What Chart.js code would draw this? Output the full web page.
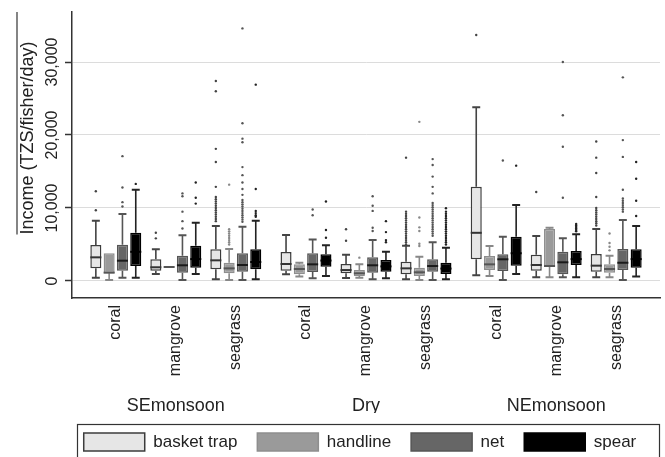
<!DOCTYPE html>
<html>
<head>
<meta charset="utf-8">
<script src="https://cdn.jsdelivr.net/npm/chart.js@4/dist/chart.umd.min.js"></script>
<style>
  body { margin: 0; background: #fff; }
  #wrap { width: 665px; height: 457px; }
</style>
</head>
<body>
<div id="wrap"><canvas id="chart"></canvas></div>
<script>
const seasons = ["SEmonsoon", "Dry", "NEmonsoon"];
const habitats = ["coral", "mangrove", "seagrass"];
const gears = ["basket trap", "handline", "net", "spear"];
const yTicks = [0, 10000, 20000, 30000];

// one row per group (SE coral, SE mangrove, SE seagrass, Dry ..., NE ...)
// [lower whisker, q1, median, q3, upper whisker], TZS/fisher/day
const basketTrap = [
  [460, 1730, 3240, 4930, 8260],
  [960, 1410, 1880, 2970, 4340],
  [230, 1600, 2830, 4340, 7530],
  [910, 1410, 2330, 3970, 6300],
  [410, 1050, 1500, 2330, 3600],
  [230, 910, 1730, 2650, 4840],
  [780, 2970, 6600, 12900, 23800],
  [500, 1410, 2190, 3600, 6160],
  [500, 1280, 2100, 3700, 7120],
];
const handline = [
  [140, 1050, 1140, 3790, 3790],
  [1920, 1920, 1920, 1920, 1920],
  [140, 1050, 1730, 2500, 4380],
  [600, 910, 1640, 2280, 2500],
  [460, 680, 1050, 1500, 2280],
  [140, 680, 1190, 1820, 3330],
  [680, 1500, 2280, 3420, 4800],
  [500, 1960, 2050, 7120, 7300],
  [500, 1140, 1640, 2280, 3470],
];
const net = [
  [460, 1410, 2780, 4970, 9180],
  [140, 1140, 2150, 3470, 6260],
  [140, 1280, 2190, 3790, 7440],
  [370, 1230, 2280, 3790, 5700],
  [230, 1140, 2150, 3240, 5620],
  [140, 1280, 2050, 2970, 5300],
  [140, 1370, 2970, 3650, 6070],
  [500, 910, 2560, 4020, 5840],
  [140, 1500, 2500, 4380, 8360],
];
const spear = [
  [460, 2050, 4000, 6620, 12500],
  [960, 1820, 3000, 4840, 7990],
  [230, 1600, 2600, 4340, 8260],
  [680, 1960, 2800, 3650, 4890],
  [370, 1280, 2000, 2880, 4000],
  [230, 960, 1700, 2500, 4560],
  [960, 2100, 3800, 6070, 10400],
  [500, 2190, 3000, 4100, 6390],
  [600, 1820, 3000, 4340, 7530],
];

// outside values, same group order
const basketTrapOut = [
  [12300, 9700],
  [6600, 5840],
  [27400, 26000, 18100, 16300, 12900, 11500, 11200, 10900, 10600, 10300, 10000, 9700, 9400, 9100, 8800, 8500, 8200],
  [],
  [7080, 5520],
  [16900, 9500, 9200, 8900, 8600, 8300, 8000, 7700, 7400, 7100, 6800, 6500, 6200, 5900, 5600, 5300, 5000],
  [33700],
  [12200],
  [19100, 16900, 14800, 11500, 10000, 9700, 9400, 9100, 8800, 8500, 8200, 7900, 7600],
];
const handlineOut = [
  [],
  [],
  [13200, 7100, 6800, 6500, 6200, 5900, 5600, 5300, 5000],
  [],
  [3200],
  [21800, 8700, 7350, 6850, 5100, 4800],
  [],
  [],
  [6500, 5200, 4700, 4200],
];
const netOut = [
  [17100, 12800, 10800, 10200],
  [12000, 11600, 9500, 8200, 7200],
  [34600, 21600, 19500, 19000, 15600, 14500, 13500, 12600, 11800, 11100, 10800, 10500, 10200, 9900, 9600, 9300, 9000, 8700, 8400, 8100],
  [9800, 9000],
  [11600, 10300, 9600, 7300, 6850],
  [16700, 15900, 14300, 12900, 12000, 10700, 10400, 10100, 9800, 9500, 9200, 8900, 8600, 8300, 8000, 7700, 7400, 7100, 6800, 6500, 6200],
  [16500],
  [30000, 22700, 18400, 11400],
  [27900, 19300, 17000, 12500, 11300, 11000, 10700, 10400, 10100, 9800, 9500],
];
const spearOut = [
  [13300],
  [13500, 11400, 10600],
  [26900, 12600, 9600, 9300, 9000, 8800],
  [10900, 6990, 5930],
  [8200, 6700, 5600, 5300],
  [9960, 9500, 9200, 8900, 8600, 8300, 8000, 7700, 7400, 7100, 6800, 6500, 6200, 5900, 5600, 5300, 5000],
  [15800],
  [7800, 7600, 7400, 7200, 7000, 6800],
  [16300, 14000, 11000, 8900],
];

const gearStats = [basketTrap, handline, net, spear];
const gearOutliers = [basketTrapOut, handlineOut, netOut, spearOut];
const fills = ["#e6e6e6", "#9a9a9a", "#666666", "#000000"];
const edges = ["#3c3c3c", "#8e8e8e", "#555555", "#000000"];
const whiskerColors = ["#444444", "#888888", "#555555", "#222222"];
const medianColors = ["#333333", "#555555", "#1a1a1a", "#000000"];

// habitat groups sit one unit apart, seasons a little further
const seasonStep = 3.17;
const groupPos = [];
seasons.forEach((s, si) => habitats.forEach((h, hi) => groupPos.push(si * seasonStep + hi)));
const xMin = -0.73;
const xMax = 9.07;

const FONT = "'Liberation Sans', Arial, Helvetica, sans-serif";
Chart.defaults.font.family = FONT;
Chart.defaults.color = "#222";

const boxExtras = {
  id: "boxExtras",
  afterDatasetsDraw(chart) {
    const ctx = chart.ctx;
    const yScale = chart.scales.y;
    const py = (v) => yScale.getPixelForValue(v);
    ctx.save();
    gearStats.forEach((stats, d) => {
      const meta = chart.getDatasetMeta(d);
      meta.data.forEach((bar, i) => {
        const [lo, q1, med, q3, hi] = stats[i];
        const x = bar.x;
        const half = bar.width / 2;
        const cap = bar.width * 0.36;

        ctx.strokeStyle = whiskerColors[d];
        ctx.lineWidth = 1.6;
        ctx.beginPath();
        if (hi > q3) { ctx.moveTo(x, py(q3)); ctx.lineTo(x, py(hi)); }
        if (lo < q1) { ctx.moveTo(x, py(q1)); ctx.lineTo(x, py(lo)); }
        ctx.stroke();
        ctx.lineWidth = 2;
        ctx.beginPath();
        if (hi > q3) { ctx.moveTo(x - cap, py(hi)); ctx.lineTo(x + cap, py(hi)); }
        if (lo < q1) { ctx.moveTo(x - cap, py(lo)); ctx.lineTo(x + cap, py(lo)); }
        ctx.stroke();

        ctx.strokeStyle = medianColors[d];
        ctx.lineWidth = 2;
        ctx.beginPath();
        ctx.moveTo(x - half, py(med));
        ctx.lineTo(x + half, py(med));
        ctx.stroke();

        ctx.fillStyle = whiskerColors[d];
        gearOutliers[d][i].forEach((v) => {
          ctx.beginPath();
          ctx.arc(x, py(v), 1.2, 0, 2 * Math.PI);
          ctx.fill();
        });
      });
    });
    ctx.restore();
  },
  afterDraw(chart) {
    const ctx = chart.ctx;
    const yScale = chart.scales.y;
    const area = chart.chartArea;
    ctx.save();
    ctx.fillStyle = "#222";
    ctx.textAlign = "center";
    ctx.textBaseline = "alphabetic";

    ctx.font = "16px " + FONT;
    yScale.ticks.forEach((t) => {
      ctx.save();
      ctx.translate(yScale.left - 3, yScale.getPixelForValue(t.value));
      ctx.rotate(-Math.PI / 2);
      ctx.fillText(t.value.toLocaleString("en-US"), 0, 0);
      ctx.restore();
    });

    const title = "Income (TZS/fisher/day)";
    const titleY = area.top + 126;
    ctx.font = "18px " + FONT;
    ctx.save();
    ctx.translate(33, titleY);
    ctx.rotate(-Math.PI / 2);
    ctx.fillText(title, 0, 0);
    ctx.restore();
    const halfTitle = ctx.measureText(title).width / 2;

    ctx.strokeStyle = "#333";
    ctx.lineWidth = 1.2;
    ctx.beginPath();
    ctx.moveTo(17, area.top);
    ctx.lineTo(17, titleY + halfTitle);
    ctx.stroke();

    // frame round the legend
    const lg = chart.legend;
    ctx.strokeRect(area.left + 5.5, lg.top + 11.5, area.right - area.left - 6, 60);
    ctx.restore();
  },
};

function createIncomeBoxPlot(canvas) {
  const datasets = gears.map((g, d) => ({
    label: g,
    data: gearStats[d].map((s, i) => ({ x: groupPos[i], y: [s[1], s[3]] })),
    backgroundColor: fills[d],
    borderColor: edges[d],
    borderWidth: 1.5,
    borderSkipped: false,
    categoryPercentage: 0.887,
    barPercentage: 0.83,
  }));

  const config = {
    type: "bar",
    data: { datasets: datasets },
    options: {
      responsive: true,
      maintainAspectRatio: false,
      animation: false,
      layout: { padding: { top: 12, left: 60, right: 5, bottom: -4 } },
      plugins: {
        legend: {
          position: "bottom",
          labels: {
            boxWidth: 61,
            boxHeight: 18,
            padding: 20,
            color: "#222",
            font: { size: 17 },
          },
        },
        tooltip: { enabled: false },
      },
      scales: {
        x: {
          type: "linear",
          offset: false,
          min: xMin,
          max: xMax,
          afterBuildTicks: (axis) => { axis.ticks = groupPos.map((v) => ({ value: v })); },
          afterFit: (axis) => { axis.height = 83; },
          ticks: {
            autoSkip: false,
            minRotation: 90,
            maxRotation: 90,
            padding: 7,
            color: "#222",
            font: { size: 16 },
            callback: (value, index) => habitats[index % habitats.length],
          },
          grid: { display: false, drawTicks: false, offset: false },
          border: { color: "#333", width: 1.5 },
        },
        x2: {
          type: "linear",
          position: "bottom",
          offset: false,
          min: xMin,
          max: xMax,
          afterBuildTicks: (axis) => {
            axis.ticks = groupPos.filter((v, i) => i % 3 === 1).map((v) => ({ value: v }));
          },
          afterFit: (axis) => { axis.height = 32; },
          ticks: {
            autoSkip: false,
            minRotation: 0,
            maxRotation: 0,
            padding: 14,
            color: "#222",
            font: { size: 18 },
            callback: (value, index) => seasons[index],
          },
          grid: { display: false, drawTicks: false, offset: false },
          border: { display: false },
        },
        y: {
          min: -2330,
          max: 36850,
          afterBuildTicks: (axis) => { axis.ticks = yTicks.map((v) => ({ value: v })); },
          afterFit: (axis) => { axis.width = 12; },
          ticks: { display: false },
          grid: { color: "#dcdcdc", lineWidth: 1, tickLength: 7, tickColor: "#333", tickWidth: 1.5 },
          border: { color: "#333", width: 1.5 },
        },
      },
    },
    plugins: [boxExtras],
  };

  new Chart(canvas, config);
}

createIncomeBoxPlot(document.getElementById("chart"));
</script>
</body>
</html>
